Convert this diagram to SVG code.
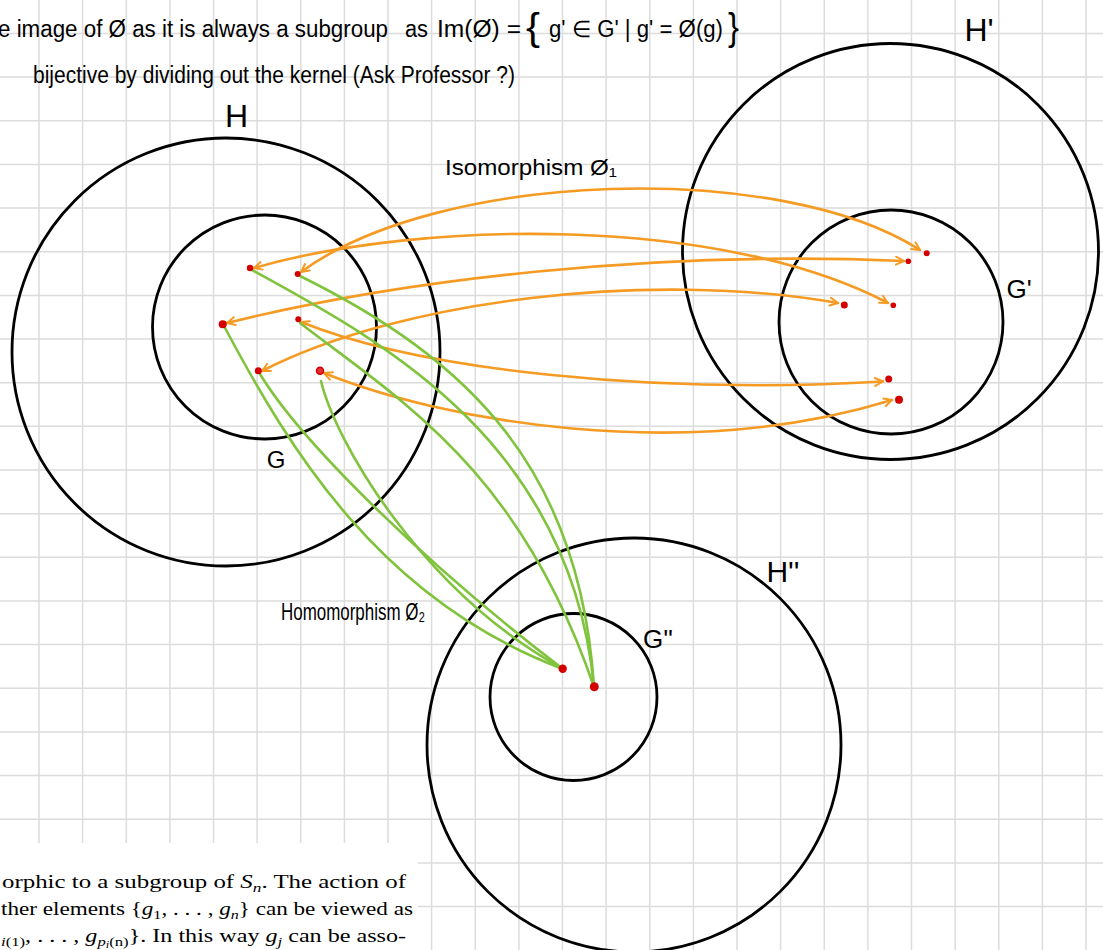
<svg xmlns="http://www.w3.org/2000/svg" width="1103" height="950" viewBox="0 0 1103 950">
<style>
.grid{stroke:#dcdcdc;stroke-width:1.5;fill:none}
.ring{fill:none;stroke:#000;stroke-width:2.8}
.iso{fill:none;stroke:#f59b23;stroke-width:2.6;stroke-linecap:round;marker-start:url(#ah);marker-end:url(#ah)}
.hom{fill:none;stroke:#80c33c;stroke-width:2.6;stroke-linecap:round}
.dot{fill:#d40000}
.hand{font-family:"Liberation Sans",Arial,sans-serif;fill:#000}
.tex{font-family:"Liberation Serif","Times New Roman",serif;fill:#000;font-size:19.5px}
</style>
<defs>
<marker id="ah" viewBox="0 0 10 10" refX="9" refY="5" markerWidth="10" markerHeight="10" markerUnits="userSpaceOnUse" orient="auto-start-reverse">
<path d="M1,1 L9,5 L1,9" fill="none" stroke="#f59b23" stroke-width="2" stroke-linecap="round" stroke-linejoin="round"/>
</marker>
</defs>
<rect width="1103" height="950" fill="#fff"/>
<g id="grid">
<path class="grid" d="M39,0V950M82.6,0V950M126.3,0V950M169.9,0V950M213.5,0V950M257.1,0V950M300.8,0V950M344.4,0V950M388,0V950M431.6,0V950M475.3,0V950M518.9,0V950M562.5,0V950M606.1,0V950M649.8,0V950M693.4,0V950M737,0V950M780.6,0V950M824.3,0V950M867.9,0V950M911.5,0V950M955.1,0V950M998.8,0V950M1042.4,0V950M1086,0V950
M0,33.4H1103M0,77.1H1103M0,120.7H1103M0,164.4H1103M0,208H1103M0,251.7H1103M0,295.4H1103M0,339H1103M0,382.7H1103M0,426.3H1103M0,470H1103M0,513.7H1103M0,557.3H1103M0,601H1103M0,644.6H1103M0,688.3H1103M0,732H1103M0,775.6H1103M0,819.3H1103M0,862.9H1103M0,906.6H1103"/>
<rect x="0" y="843" width="418" height="107" fill="#fff"/>
</g>
<g id="notes">
<text class="hand" x="-2" y="37" font-size="23" textLength="390" lengthAdjust="spacingAndGlyphs">e image of Ø as it is always a subgroup</text>
<text class="hand" x="405" y="37" font-size="23" textLength="23" lengthAdjust="spacingAndGlyphs">as</text>
<text class="hand" x="437" y="37" font-size="23" textLength="84" lengthAdjust="spacingAndGlyphs">Im(Ø) =</text>
<text class="hand" x="526" y="40" font-size="38" textLength="14" lengthAdjust="spacingAndGlyphs">{</text>
<text class="hand" x="549" y="37" font-size="23" textLength="174" lengthAdjust="spacingAndGlyphs">g' ∈ G' | g' = Ø(g)</text>
<text class="hand" x="728" y="40" font-size="38" textLength="11" lengthAdjust="spacingAndGlyphs">}</text>
<text class="hand" x="33" y="83" font-size="23" textLength="482" lengthAdjust="spacingAndGlyphs">bijective by dividing out the kernel  (Ask Professor ?)</text>
</g>
<g id="node-H"><circle class="ring" cx="226" cy="352" r="214"/><text class="hand" x="236.5" y="127" font-size="32" text-anchor="middle">H</text></g>
<g id="node-G"><circle class="ring" cx="264.5" cy="327" r="112"/><text class="hand" x="276" y="468" font-size="24" text-anchor="middle">G</text></g>
<g id="node-H1"><circle class="ring" cx="890.5" cy="251.5" r="208"/><text class="hand" x="979" y="41" font-size="32" text-anchor="middle">H'</text></g>
<g id="node-G1"><circle class="ring" cx="891" cy="322" r="112"/><text class="hand" x="1019" y="298" font-size="26" text-anchor="middle">G'</text></g>
<g id="node-H2"><circle class="ring" cx="634" cy="745" r="207"/><text class="hand" x="783" y="582" font-size="30" text-anchor="middle">H''</text></g>
<g id="node-G2"><circle class="ring" cx="573.5" cy="697" r="83.5"/><text class="hand" x="658" y="648" font-size="26" text-anchor="middle">G''</text></g>
<g id="connectors">
<path class="iso" d="M301,272 C440,170 780,160 920,250"/>
<path class="iso" d="M254,268 C420,220 720,215 888,303"/>
<path class="iso" d="M227,323 C400,280 650,250 904,261"/>
<path class="iso" d="M262,371 C400,300 650,270 838,303"/>
<path class="iso" d="M301,322 C420,370 650,395 883,381.5"/>
<path class="iso" d="M324,373 C440,420 680,465 892,400"/>
<path class="hom" d="M300,276 C470,360 580,470 594,687"/>
<path class="hom" d="M252,270 C380,340 570,440 594,687"/>
<path class="hom" d="M300,323 C400,400 520,470 594,687"/>
<path class="hom" d="M224,326 C290,450 380,600 563,669"/>
<path class="hom" d="M260,374 C300,440 420,560 563,669"/>
<path class="hom" d="M321,381 C335,440 420,590 563,669"/>
<text class="hand" x="445" y="175" font-size="22" textLength="172" lengthAdjust="spacingAndGlyphs">Isomorphism Ø₁</text>
<text class="hand" x="281" y="620" font-size="24" textLength="144" lengthAdjust="spacingAndGlyphs">Homomorphism Ø₂</text>
</g>
<g id="elements">
<circle class="dot" cx="250" cy="268" r="3.2"/>
<circle class="dot" cx="297.7" cy="274" r="3"/>
<circle class="dot" cx="222.7" cy="324.3" r="4"/>
<circle class="dot" cx="298.3" cy="319.3" r="3"/>
<circle class="dot" cx="258.3" cy="370.7" r="3.5"/>
<circle cx="320" cy="370.7" r="3.5" fill="#e03030" stroke="#d40000" stroke-width="1.5"/>
<circle class="dot" cx="926.7" cy="253.3" r="3"/>
<circle class="dot" cx="908.3" cy="261.3" r="2.8"/>
<circle class="dot" cx="844.3" cy="305" r="3.5"/>
<circle class="dot" cx="893.3" cy="305.3" r="2.8"/>
<circle class="dot" cx="888.7" cy="379" r="3.5"/>
<circle class="dot" cx="899" cy="399.7" r="4"/>
<circle class="dot" cx="562.7" cy="668.7" r="4.2"/>
<circle class="dot" cx="594.3" cy="686.7" r="4.5"/>
</g>
<g id="page-text">
<text class="tex" x="2" y="888" textLength="404" lengthAdjust="spacingAndGlyphs">orphic to a subgroup of <tspan font-style="italic">S</tspan><tspan font-size="13.5" font-style="italic" dy="4">n</tspan><tspan dy="-4">. The action of</tspan></text>
<text class="tex" x="1" y="915" textLength="412" lengthAdjust="spacingAndGlyphs">ther elements {<tspan font-style="italic">g</tspan><tspan font-size="13.5" dy="4">1</tspan><tspan dy="-4">, . . . , </tspan><tspan font-style="italic">g</tspan><tspan font-size="13.5" font-style="italic" dy="4">n</tspan><tspan dy="-4">} can be viewed as</tspan></text>
<text class="tex" x="1" y="942" textLength="405" lengthAdjust="spacingAndGlyphs"><tspan font-size="13.5" font-style="italic" dy="4">i</tspan><tspan font-size="13.5">(1)</tspan><tspan dy="-4">, . . . , </tspan><tspan font-style="italic">g</tspan><tspan font-size="13.5" font-style="italic" dy="4">p</tspan><tspan font-size="10" font-style="italic" dy="2">i</tspan><tspan font-size="13.5" dy="-2">(n)</tspan><tspan dy="-4">}. In this way </tspan><tspan font-style="italic">g</tspan><tspan font-size="13.5" font-style="italic" dy="4">j</tspan><tspan dy="-4"> can be asso-</tspan></text>
</g>
</svg>
